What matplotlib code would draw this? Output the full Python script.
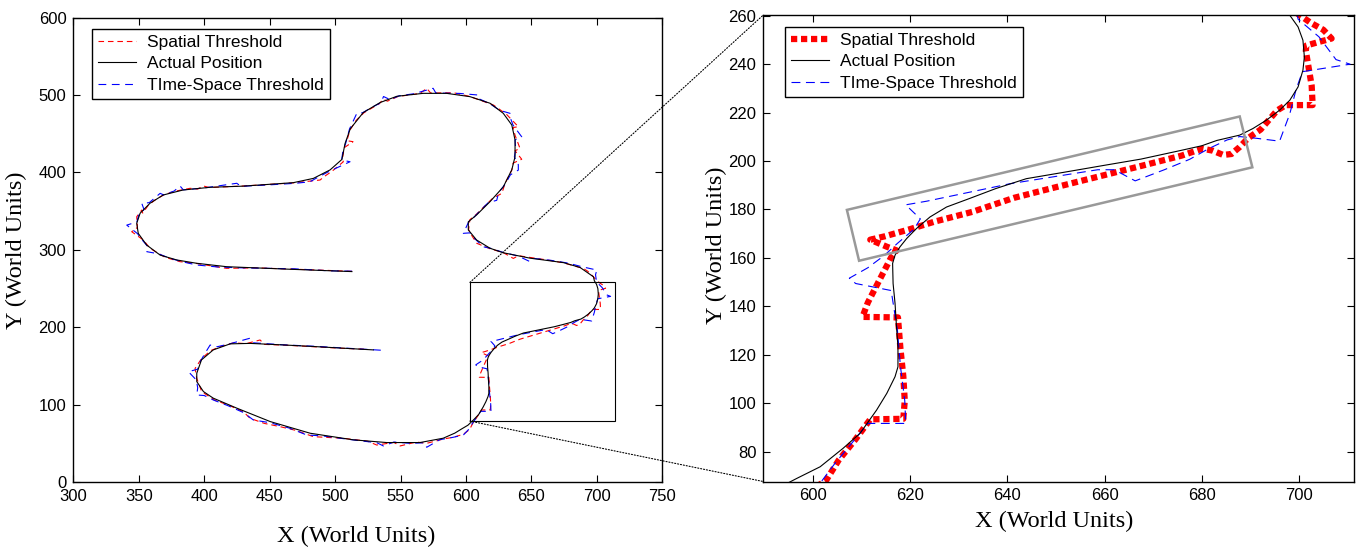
import numpy as np
import matplotlib.pyplot as plt
from matplotlib.patches import Rectangle, Polygon, ConnectionPatch

plt.rcParams['font.family'] = ['Liberation Sans', 'DejaVu Sans']

# actual position of the tracked object (world units)
actual_x = [512.8, 465.7, 417.2, 394.3, 379.0, 366.3, 356.0, 349.6, 348.4, 351.0,
            358.6, 368.7, 383.8, 404.4, 429.7, 468.1, 483.4, 496.2, 505.2, 507.6,
            511.6, 521.5, 534.5, 547.2, 567.3, 585.2, 603.1, 618.4, 628.5, 635.0,
            637.5, 637.5, 635.0, 628.5, 618.4, 608.1, 601.8, 601.8, 608.1, 618.4,
            628.5, 649.0, 674.4, 687.2, 697.4, 698.1, 699.8, 700.8, 701.1, 700.8,
            699.8, 698.1, 696.0, 693.3, 690.5, 687.8, 683.1, 680.0, 675.3, 667.5,
            659.6, 651.8, 643.9, 637.6, 632.2, 627.5, 624.1, 621.3, 619.3, 617.9,
            616.9, 616.4, 616.5, 616.9, 617.2, 617.5, 617.5, 616.9, 615.2, 613.1,
            609.7, 606.2, 601.5, 596.7, 591.5, 582.6, 564.8, 539.4, 514.0, 481.0,
            450.4, 424.9, 406.9, 399.4, 394.3, 394.3, 397.9, 406.9, 419.8, 435.1,
            460.5, 483.4, 529.2]
actual_y = [272.0, 275.0, 278.3, 282.7, 287.0, 293.3, 306.3, 321.3, 334.3, 347.3,
            360.3, 370.9, 377.3, 380.8, 382.3, 386.8, 392.3, 403.3, 416.8, 437.3,
            456.3, 477.3, 490.3, 498.3, 502.1, 502.1, 497.8, 489.3, 476.3, 461.3,
            441.9, 420.3, 403.3, 381.3, 362.3, 345.1, 336.3, 325.8, 312.8, 302.1,
            296.3, 289.3, 283.6, 277.3, 265.3, 260.2, 255.4, 249.9, 243.0, 237.5,
            230.6, 225.1, 221.0, 216.9, 213.4, 210.7, 208.5, 206.3, 204.2, 200.8,
            198.1, 195.4, 192.7, 188.6, 184.5, 181.0, 176.9, 172.1, 168.0, 164.5,
            161.1, 157.7, 149.4, 141.2, 131.5, 123.3, 115.0, 110.9, 104.0, 97.1,
            87.5, 81.3, 73.7, 68.9, 63.5, 56.9, 51.3, 51.3, 54.8, 63.3,
            78.4, 95.7, 108.6, 117.1, 130.0, 140.8, 158.0, 170.9, 178.7, 179.3,
            177.3, 175.3, 170.9]

# positions sent with the spatial threshold
spatial_x = [513.0, 490.0, 466.0, 440.0, 417.0, 405.0, 394.0, 381.5, 370.0, 358.6,
             353.5, 344.6, 349.0, 348.4, 352.3, 353.0, 357.0, 362.0, 369.0, 377.0,
             389.2, 395.0, 399.3, 404.0, 430.0, 468.0, 488.5, 492.0, 498.0, 506.3,
             505.5, 507.0, 513.7, 509.0, 511.4, 516.0, 522.0, 534.0, 536.7, 540.0,
             548.0, 565.0, 570.0, 573.0, 590.4, 603.0, 621.0, 631.0, 640.0, 636.0,
             637.5, 641.3, 637.5, 642.6, 636.0, 635.0, 629.9, 627.4, 620.0, 608.0,
             603.0, 602.0, 605.0, 608.3, 618.4, 628.5, 636.2, 640.0, 662.0, 674.0,
             689.7, 693.0, 697.0, 699.8, 702.4, 705.0, 706.7, 704.1, 701.5, 701.4,
             702.0, 702.6, 702.8, 697.3, 695.5, 692.1, 689.5, 687.8, 686.1, 684.4,
             682.2, 680.1, 675.8, 667.2, 658.6, 650.0, 641.4, 632.8, 625.1, 619.9,
             614.8, 611.8, 615.2, 617.2, 616.1, 613.9, 611.3, 610.2, 617.5, 618.0,
             618.6, 618.9, 618.6, 611.8, 608.8, 605.3, 602.7, 598.0, 590.0, 583.0,
             570.0, 562.0, 549.7, 545.0, 531.8, 525.0, 506.3, 483.4, 470.0, 458.0,
             446.0, 435.0, 430.0, 418.0, 408.0, 398.1, 394.3, 393.0, 398.1, 405.0,
             412.0, 422.3, 432.0, 442.7, 446.0, 462.0, 484.0, 505.0, 524.2]
spatial_y = [272.3, 273.8, 275.2, 276.8, 276.2, 279.5, 282.5, 284.8, 290.5, 302.0,
             312.7, 323.5, 329.0, 342.8, 351.5, 347.5, 357.0, 364.0, 371.0, 375.5,
             379.5, 378.5, 382.5, 380.5, 382.5, 386.5, 390.2, 395.0, 402.0, 413.8,
             417.0, 432.0, 439.7, 441.0, 454.8, 467.0, 477.0, 489.0, 494.5, 492.0,
             498.0, 502.0, 508.6, 502.5, 502.9, 498.0, 487.0, 475.0, 459.0, 458.0,
             448.0, 431.0, 428.0, 417.0, 412.0, 403.0, 386.0, 373.0, 366.0, 346.0,
             339.0, 326.0, 317.0, 308.5, 301.5, 296.5, 289.0, 292.5, 287.0, 283.5,
             276.0, 272.5, 266.0, 260.7, 257.1, 254.2, 250.6, 249.2, 247.7, 245.5,
             238.3, 231.1, 223.1, 223.1, 220.9, 213.0, 209.4, 205.8, 202.9, 202.5,
             204.3, 205.1, 202.2, 197.8, 193.5, 189.2, 184.8, 179.0, 175.0, 171.8,
             168.9, 167.5, 164.6, 163.1, 160.2, 151.6, 141.5, 135.6, 135.4, 122.7,
             111.1, 101.0, 93.5, 93.3, 85.1, 76.4, 68.0, 62.0, 58.0, 56.0,
             50.3, 52.0, 46.9, 51.5, 48.1, 53.0, 56.8, 58.9, 67.0, 71.8,
             76.0, 82.6, 91.0, 100.0, 106.0, 117.0, 134.0, 147.0, 160.0, 170.0,
             175.0, 180.0, 179.0, 183.7, 178.0, 177.0, 175.0, 173.0, 171.7]

# positions sent with the time-space threshold
timespace_x = [513.0, 495.0, 470.0, 440.0, 424.9, 410.0, 394.3, 385.0, 374.0, 365.0,
               356.1, 357.0, 352.0, 349.0, 340.8, 348.5, 350.0, 354.0, 352.3, 358.0,
               366.3, 369.0, 377.0, 381.5, 384.0, 400.0, 424.9, 428.0, 450.0, 470.0,
               480.9, 485.0, 495.0, 511.4, 505.0, 506.0, 508.0, 511.0, 516.6, 521.0,
               528.0, 535.0, 537.0, 542.0, 549.0, 560.0, 574.9, 577.0, 595.0, 609.5,
               610.0, 618.0, 626.0, 633.7, 634.0, 636.0, 642.6, 637.5, 638.0, 637.0,
               640.0, 640.0, 634.0, 630.0, 625.0, 623.5, 617.0, 611.0, 606.0, 602.0,
               598.0, 603.0, 607.0, 613.3, 619.0, 628.0, 640.0, 649.0, 652.0, 665.0,
               678.0, 688.0, 700.0, 699.0, 699.8, 704.1, 707.6, 710.5, 700.7, 699.4,
               698.1, 696.0, 691.2, 687.8, 685.2, 681.4, 677.5, 672.3, 666.3, 662.0,
               658.6, 647.4, 640.5, 632.0, 623.4, 619.1, 622.1, 620.8, 617.4, 614.7,
               611.3, 607.5, 608.8, 616.1, 617.4, 618.0, 618.9, 619.1, 611.3, 607.5,
               604.5, 601.9, 598.0, 590.0, 580.0, 570.0, 568.0, 557.3, 545.0, 536.9,
               532.0, 510.0, 490.0, 478.4, 465.0, 450.0, 437.6, 430.0, 418.0, 407.0,
               400.0, 394.3, 395.0, 394.0, 387.9, 395.0, 397.0, 400.6, 404.5, 410.0,
               420.0, 435.0, 438.0, 460.0, 485.0, 510.0, 535.0]
timespace_y = [272.5, 273.0, 275.5, 276.5, 277.0, 278.0, 280.5, 284.0, 289.0, 295.0,
               297.7, 304.0, 314.0, 321.0, 332.0, 336.0, 345.0, 352.0, 360.0, 361.0,
               373.0, 371.0, 376.0, 382.5, 377.5, 380.0, 386.0, 382.0, 384.0, 386.0,
               388.0, 392.0, 401.0, 413.8, 416.0, 428.0, 437.0, 456.0, 476.3, 477.0,
               484.0, 490.0, 498.0, 494.0, 499.0, 501.5, 508.6, 502.5, 502.0, 499.9,
               495.0, 489.0, 480.0, 476.3, 470.0, 461.0, 446.0, 442.0, 430.0, 420.0,
               410.0, 403.0, 397.0, 385.0, 374.0, 364.0, 361.0, 351.0, 342.0, 336.0,
               321.4, 322.0, 314.0, 304.0, 302.0, 297.0, 292.0, 284.8, 289.0, 286.5,
               283.0, 278.5, 274.0, 268.0, 258.6, 251.3, 241.9, 240.0, 236.9, 229.6,
               219.5, 208.2, 209.4, 210.1, 208.7, 205.1, 200.7, 196.4, 191.8, 196.4,
               196.4, 192.8, 190.6, 187.0, 183.4, 181.9, 176.1, 171.8, 166.0, 161.0,
               155.9, 151.6, 149.4, 146.5, 129.9, 115.4, 101.0, 91.6, 91.6, 82.2,
               75.0, 68.0, 61.0, 58.0, 55.0, 45.2, 51.0, 50.3, 52.0, 46.9,
               51.0, 55.5, 60.0, 61.0, 70.0, 77.0, 80.4, 90.0, 99.0, 106.2,
               112.0, 112.7, 122.0, 132.0, 142.8, 146.0, 156.0, 166.5, 177.2, 175.0,
               179.0, 186.0, 180.0, 177.5, 175.5, 173.0, 170.5]

# zoomed window on the left plot: x0, y0, x1, y1
zoom_box = [603.0, 79.0, 714.0, 258.0]
# tilted gray box on the right plot (corners)
band_x = [607.0, 687.8, 690.4, 609.5]
band_y = [179.8, 218.4, 197.4, 158.8]

labels = ['Spatial Threshold', 'Actual Position', 'TIme-Space Threshold']

fig = plt.figure(figsize=(13.56, 5.47), dpi=100)
ax1 = fig.add_axes([0.0541, 0.1183, 0.4343, 0.8497])
ax2 = fig.add_axes([0.5629, 0.1197, 0.4356, 0.8528])

# left: whole track
ax1.plot(spatial_x, spatial_y, color='r', lw=0.8, ls=(0, (5, 3.5)), label=labels[0], zorder=2)
ax1.plot(actual_x, actual_y, color='k', lw=0.8, label=labels[1], zorder=3)
ax1.plot(timespace_x, timespace_y, color='b', lw=0.8, ls=(0, (7, 5)), label=labels[2], zorder=2.5)
ax1.add_patch(Rectangle((zoom_box[0], zoom_box[1]), zoom_box[2] - zoom_box[0],
                        zoom_box[3] - zoom_box[1], fill=False, ec='k', lw=0.8, zorder=4))
ax1.set_xlim(300, 750)
ax1.set_ylim(0, 600)
ax1.set_xticks(np.arange(300, 751, 50))
ax1.set_yticks(np.arange(0, 601, 100))

# right: zoom on the turn
ax2.plot(spatial_x, spatial_y, color='r', lw=4.5, ls=(0, (1, 0.6)), label=labels[0], zorder=2)
ax2.plot(actual_x, actual_y, color='k', lw=0.8, label=labels[1], zorder=3)
ax2.plot(timespace_x, timespace_y, color='b', lw=0.8, ls=(0, (8, 5)), label=labels[2], zorder=2.5)
ax2.add_patch(Polygon(np.column_stack([band_x, band_y]), closed=True, fill=False,
                      ec='#999999', lw=1.8, zorder=4))
ax2.set_xlim(589.8, 711.3)
ax2.set_ylim(67.6, 260.3)
ax2.set_xticks(np.arange(600, 701, 20))
ax2.set_yticks(np.arange(80, 261, 20))

for ax in (ax1, ax2):
    ax.tick_params(direction='in', top=True, right=True, length=5, width=0.8,
                   labelsize=12, pad=5)
    for s in ax.spines.values():
        s.set_linewidth(1.0)
    ax.set_xlabel('X (World Units)', family='Liberation Serif', fontsize=17.5)
    ax.set_ylabel('Y (World Units)', family='Liberation Serif', fontsize=17.5)

ax1.xaxis.set_label_coords(0.48, -0.094)
ax1.yaxis.set_label_coords(-0.079, 0.5)
ax2.xaxis.set_label_coords(0.492, -0.063)
ax2.yaxis.set_label_coords(-0.061, 0.507)

leg_opts = dict(loc='upper left', bbox_transform=fig.transFigure, fancybox=False,
                edgecolor='k', framealpha=1, fontsize=12.5, borderaxespad=0,
                handlelength=2.2, handletextpad=0.6, labelspacing=0.35, borderpad=0.35)
leg1 = ax1.legend(bbox_to_anchor=(92 / 1356, 1 - 29 / 547), **leg_opts)
leg2 = ax2.legend(bbox_to_anchor=(785 / 1356, 1 - 27 / 547), **leg_opts)
for leg in (leg1, leg2):
    leg.get_frame().set_linewidth(1.0)

# dotted lines from the zoom window to the right plot
for ya, yb in [(zoom_box[3], 1), (zoom_box[1], 0)]:
    con = ConnectionPatch(xyA=(zoom_box[0], ya), coordsA=ax1.transData,
                          xyB=(0, yb), coordsB=ax2.transAxes,
                          color='k', lw=0.8, ls=':')
    fig.add_artist(con)

fig.savefig('out.png', dpi=100)
